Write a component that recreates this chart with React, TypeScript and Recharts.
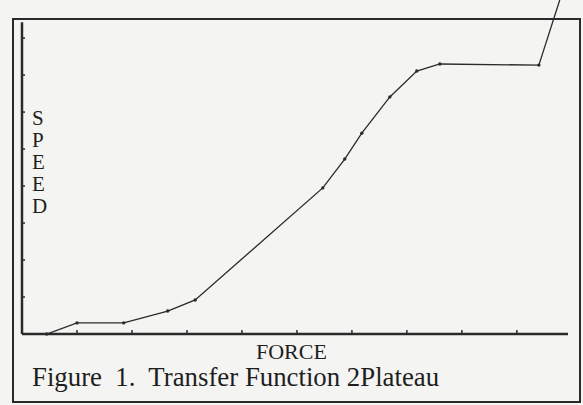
import { LineChart, Line, XAxis, YAxis, ReferenceLine } from "recharts";

// Force (x) vs speed (y) in axis-tick units
const force = [0, 0.45, 1.0, 1.85, 2.65, 3.15, 5.47, 5.87, 6.18, 6.69, 7.18, 7.6, 9.4, 9.78];
const speed = [0, 0, 0.3, 0.3, 0.62, 0.92, 3.95, 4.73, 5.43, 6.41, 7.11, 7.3, 7.27, 9.03];
const xTicks = [1, 2, 3, 4, 5, 6, 7, 8, 9];
const yTicks = [1, 2, 3, 4, 5, 6, 7, 8];
const speedLetters = ["S", "P", "E", "E", "D"];

const chartData = force.map((f, i) => ({ force: f, speed: speed[i] }));
const INK = "#2a2a2a";

const VertexDot = (props: any) => {
  const { cx, cy, index } = props;
  if (index === 0 || index === chartData.length - 1) return <g key={index} />;
  return <circle key={index} cx={cx} cy={cy} r={1.7} fill={INK} />;
};

const NoLabel = () => <g />;

export default function App() {
  return (
    <div
      style={{
        position: "absolute",
        left: 0,
        top: 0,
        width: 583,
        height: 405,
        background: "#f4f4f2",
        overflow: "hidden",
        fontFamily: "'Liberation Serif', 'DejaVu Serif', serif",
        color: "#1e1e1e",
      }}
    >
      <div
        style={{
          position: "absolute",
          left: 12,
          top: 18,
          width: 565,
          height: 381,
          border: `2px solid ${INK}`,
        }}
      />
      <div style={{ position: "absolute", left: 32, top: 107, fontSize: 21, lineHeight: "22px" }}>
        {speedLetters.map((ch, i) => (
          <div key={i}>{ch}</div>
        ))}
      </div>
      <div style={{ position: "absolute", left: 256, top: 340, fontSize: 22, lineHeight: "24px" }}>
        FORCE
      </div>
      <div
        style={{
          position: "absolute",
          left: 32,
          top: 363,
          fontSize: 26.8,
          lineHeight: "28px",
          whiteSpace: "pre",
        }}
      >
        {"Figure  1.  Transfer Function 2Plateau"}
      </div>
      <LineChart
        width={583}
        height={405}
        data={chartData}
        margin={{ top: 0, right: 15, bottom: 71, left: 22 }}
        style={{ position: "absolute", left: 0, top: 0 }}
      >
        <XAxis
          type="number"
          dataKey="force"
          domain={[0, 9.93]}
          ticks={xTicks}
          mirror
          height={30}
          tick={NoLabel}
          tickSize={4}
          axisLine={{ stroke: INK, strokeWidth: 2.5 }}
          tickLine={{ stroke: INK, strokeWidth: 1.5 }}
        />
        <YAxis
          type="number"
          domain={[0, 9.03]}
          ticks={yTicks}
          mirror
          width={22}
          tick={NoLabel}
          tickSize={3}
          axisLine={false}
          tickLine={{ stroke: INK, strokeWidth: 1.5 }}
        />
        <ReferenceLine
          segment={[
            { x: 0, y: 0 },
            { x: 0, y: 8.43 },
          ]}
          stroke={INK}
          strokeWidth={2.5}
        />
        <Line
          type="linear"
          dataKey="speed"
          stroke={INK}
          strokeWidth={1.3}
          dot={VertexDot}
          activeDot={false}
          isAnimationActive={false}
        />
      </LineChart>
    </div>
  );
}
